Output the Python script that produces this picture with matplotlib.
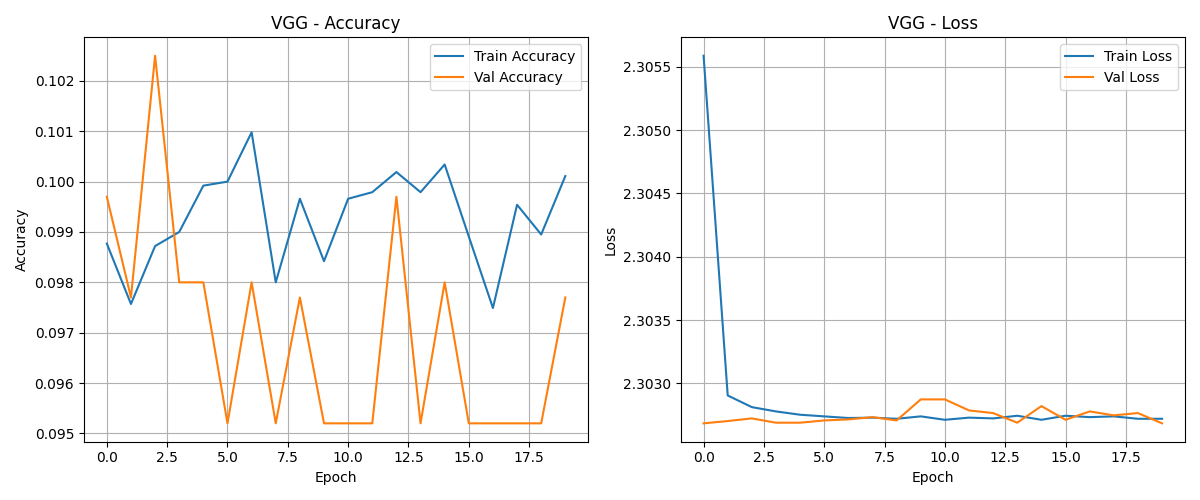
import matplotlib
matplotlib.use("Agg")
import matplotlib.pyplot as plt

epochs = list(range(20))
train_acc = [0.09877, 0.09757, 0.09872, 0.0990, 0.09992, 0.1000, 0.10098, 0.0980, 0.09966, 0.09842,
             0.09966, 0.09979, 0.10019, 0.09979, 0.10034, 0.09891, 0.09749, 0.09954, 0.09895, 0.10011]
val_acc = [0.0997, 0.0977, 0.1025, 0.0980, 0.0980, 0.0952, 0.0980, 0.0952, 0.0977, 0.0952,
           0.0952, 0.0952, 0.0997, 0.0952, 0.0980, 0.0952, 0.0952, 0.0952, 0.0952, 0.0977]
train_loss = [2.305587, 2.302905, 2.302813, 2.302779, 2.302753, 2.302740, 2.302727, 2.302730, 2.302721, 2.302740,
              2.302713, 2.302730, 2.302724, 2.302745, 2.302713, 2.302745, 2.302734, 2.302740, 2.302721, 2.302721]
val_loss = [2.302685, 2.302703, 2.302724, 2.302690, 2.302690, 2.302708, 2.302716, 2.302734, 2.302708, 2.302874,
            2.302874, 2.302787, 2.302766, 2.302690, 2.302821, 2.302713, 2.302779, 2.302748, 2.302766, 2.302685]

fig, (ax1, ax2) = plt.subplots(1, 2, figsize=(12, 5), dpi=100)

ax1.plot(epochs, train_acc, label='Train Accuracy')
ax1.plot(epochs, val_acc, label='Val Accuracy')
ax1.set_title('VGG - Accuracy')
ax1.set_xlabel('Epoch')
ax1.set_ylabel('Accuracy')
ax1.legend()
ax1.grid(True)

ax2.plot(epochs, train_loss, label='Train Loss')
ax2.plot(epochs, val_loss, label='Val Loss')
ax2.set_title('VGG - Loss')
ax2.set_xlabel('Epoch')
ax2.set_ylabel('Loss')
ax2.legend()
ax2.grid(True)

plt.tight_layout()
plt.savefig('out.png')
